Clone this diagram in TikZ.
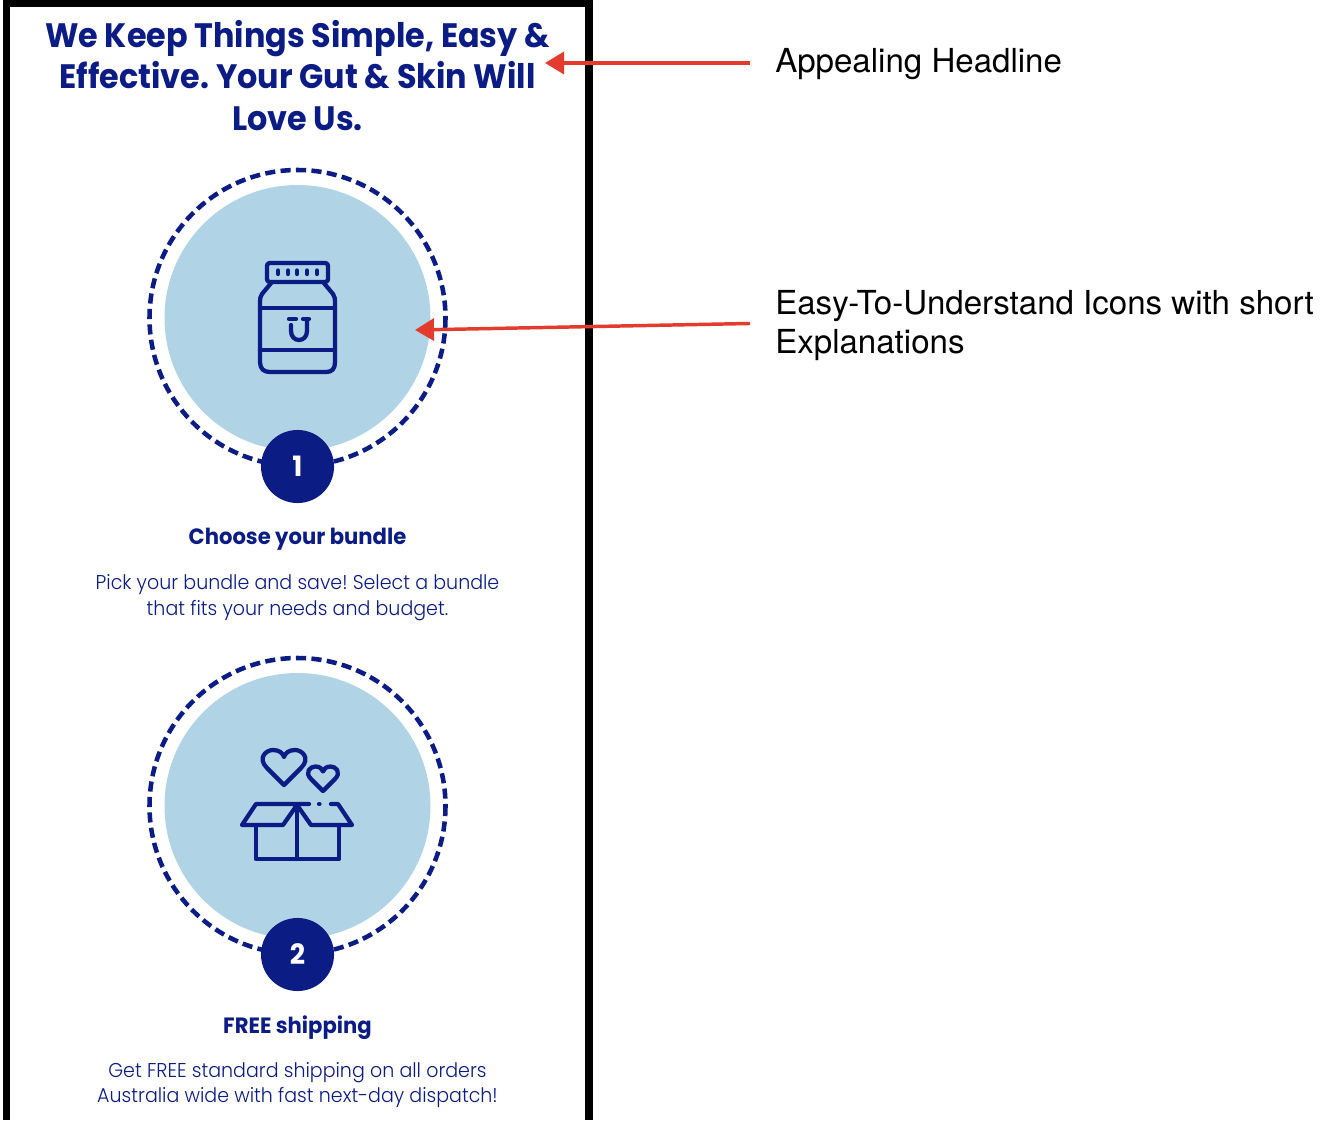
\documentclass[tikz,border=0pt]{standalone}
\usepackage{fontspec}
\usetikzlibrary{arrows.meta}
\setmainfont{TeX Gyre Heros}
\newfontfamily\brandfont[FakeStretch=.94]{Poppins}
\newfontfamily\brandname[FakeStretch=.955]{Poppins}
\newfontfamily\brandlight[FakeStretch=.951]{Poppins Light}
\definecolor{BrandClr}{HTML}{0B1C85}
\definecolor{DiscClr}{HTML}{B0D4E5}
\definecolor{CalloutClr}{HTML}{E33B2E}
\tikzset{
  title/.style={inner sep=0pt,align=center,text=BrandClr,font=\frenchspacing\brandfont\bfseries\fontsize{25.4}{31.1}\selectfont},
  stepname/.style={inner sep=0pt,text=BrandClr,font=\brandname\bfseries\fontsize{16.6}{20}\selectfont},
  stepinfo/.style={inner sep=0pt,align=center,text=BrandClr,font=\frenchspacing\brandlight\fontsize{15}{19.2}\selectfont},
  badge/.style={circle,fill=BrandClr,inner sep=0pt,minimum size=54.8pt,text=white,font=\brandname\bfseries\fontsize{21}{24}\selectfont},
  disc/.style={fill=DiscClr},
  ring/.style={draw=BrandClr,line width=3.4pt,dash pattern=on 7.6pt off 4pt},
  icon/.style={draw=BrandClr,line width=3.2pt,line join=round,line cap=round},
  note/.style={inner sep=0pt,anchor=west,align=left,font=\fontsize{24.8}{29.2}\selectfont},
  callout/.style={draw=CalloutClr,line width=2.6pt,-{Triangle[length=14.25pt,width=16.5pt]},shorten <=18.75pt},
}

\begin{document}
\begin{tikzpicture}[x=.75pt,y=-.75pt]
\useasboundingbox (0,0) rectangle (1334,1120);

% outer frame
\draw[line width=5.6pt] (6.3,1120) -- (6.3,3.7) -- (589,3.7) -- (589,1120);

\node[title] (headline) at (297.5,75.5) {We Keep Things Simple, Easy \&\\Effective. Your Gut \& Skin Will\\Love Us.};

% first step
\fill[disc] (297.5,318) circle (133);
\draw[ring] (297.5,318) circle (148);
\node[badge] (badgeOne) at (297.5,466.5) {1};
\node[stepname] (nameOne) at (297.5,539.5) {Choose your bundle};
\node[stepinfo] (infoOne) at (297.5,597.5) {Pick your bundle and save! Select a bundle\\that fits your needs and budget.};

% jar
\draw[icon,rounded corners=2pt] (267,263) rectangle (328,282);
\draw[icon] (272,282) -- (262,294) .. controls (260,297) and (260,299) .. (260,302) -- (260,362) .. controls (260,369) and (264,372) .. (270,372) -- (326,372) .. controls (332,372) and (335,369) .. (335,362) -- (335,302) .. controls (335,299) and (335,297) .. (333,294) -- (323,282);
\draw[icon] (260,308) -- (335,308) (260,350) -- (335,350);
\foreach \xdot in {278,288,297,307,317}
  \draw[icon] (\xdot,270.5) -- (\xdot,274);
\draw[icon] (289,319) -- (296,319) (303,319) -- (309,319);
\draw[icon] (291,325) -- (291,331) .. controls (291,343) and (307,343) .. (307,331) -- (307,319);

% second step
\fill[disc] (297.5,806) circle (133);
\draw[ring] (297.5,806) circle (148);
\node[badge] (badgeTwo) at (297.5,954.5) {2};
\node[stepname] (nameTwo) at (297.5,1028) {FREE shipping};
\node[stepinfo] (infoTwo) at (297.5,1085) {Get FREE standard shipping on all orders\\Australia wide with fast next-day dispatch!};

% hearts
\begin{scope}[shift={(284,785)}]
\draw[icon] (0,0) -- (-17,-17) .. controls (-27,-27) and (-18,-35) .. (-11,-35) .. controls (-5,-35) and (-1,-32) .. (0,-28) .. controls (1,-32) and (5,-35) .. (11,-35) .. controls (18,-35) and (27,-27) .. (17,-17) -- cycle;
\end{scope}
\begin{scope}[shift={(323,791)},scale=.7]
\draw[icon] (0,0) -- (-17,-17) .. controls (-27,-27) and (-18,-35) .. (-11,-35) .. controls (-5,-35) and (-1,-32) .. (0,-28) .. controls (1,-32) and (5,-35) .. (11,-35) .. controls (18,-35) and (27,-27) .. (17,-17) -- cycle;
\end{scope}

% box
\draw[icon] (256,825) -- (256,859) -- (339,859) -- (339,825);
\draw[icon] (297,805) -- (297,859);
\draw[icon] (297,805) -- (283,825) -- (242,825) -- (256,804) -- (309,804);
\draw[icon] (297,805) -- (311,825) -- (352,825) -- (338,804) -- (331,804);
\draw[icon] (319,804) -- (319.5,804);

% side notes with arrows
\node[note] (noteHeadline) at (775,64) {Appealing Headline};
\node[note] (noteIcons) at (775,326) {Easy-To-Understand Icons with short\\Explanations};
\coordinate (tipHeadline) at (545,63);
\coordinate (tipIcons) at (415,330);
\draw[callout] ([yshift=.75pt]noteHeadline.west) -- (tipHeadline);
\draw[callout] ([yshift=2.25pt]noteIcons.west) -- (tipIcons);
\end{tikzpicture}
\end{document}
